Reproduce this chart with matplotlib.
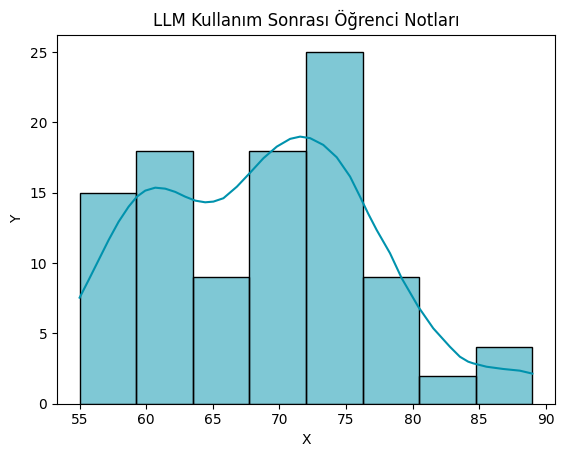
import matplotlib.pyplot as plt
import numpy as np

# histogram (8 bins from 55 to 89)
bin_edges = [55, 59.25, 63.5, 67.75, 72, 76.25, 80.5, 84.75, 89]
counts = [15, 18, 9, 18, 25, 9, 2, 4]

# kde curve (x, count-scaled density)
kde_x = [55.0, 55.68, 56.43, 57.18, 57.93, 58.68, 59.3, 59.93, 60.68, 61.43,
         62.18, 62.93, 63.68, 64.43, 65.05, 65.8, 66.81, 67.81, 68.8, 69.81,
         70.81, 71.56, 72.31, 73.3, 74.31, 75.31, 76.06, 76.68, 77.31, 78.31,
         79.19, 80.43, 81.56, 82.81, 83.56, 84.18, 84.56, 85.56, 86.81, 88.06,
         89.0]
kde_y = [7.54, 8.8, 10.22, 11.64, 12.94, 14.01, 14.72, 15.15, 15.36, 15.29,
         15.06, 14.72, 14.44, 14.32, 14.37, 14.61, 15.43, 16.43, 17.45, 18.28,
         18.83, 18.99, 18.88, 18.4, 17.52, 16.15, 14.72, 13.5, 12.35, 10.7,
         8.92, 6.9, 5.36, 4.05, 3.34, 2.99, 2.87, 2.63, 2.47, 2.35, 2.14]

color = "#0092ad"

fig = plt.figure(figsize=(5.62, 4.57), dpi=100)
ax = fig.add_axes([0.1014, 0.1166, 0.8861, 0.8079])

edges = np.array(bin_edges)
ax.bar(edges[:-1], counts, width=np.diff(edges), align='edge',
       color=color, alpha=0.5, edgecolor='none')
ax.bar(edges[:-1], counts, width=np.diff(edges), align='edge',
       fill=False, edgecolor='black', linewidth=1)
ax.plot(kde_x, kde_y, color=color, linewidth=1.5)

ax.set_xlim(53.3, 90.7)
ax.set_ylim(0, 26.25)
ax.set_xticks([55, 60, 65, 70, 75, 80, 85, 90])
ax.set_yticks([0, 5, 10, 15, 20, 25])
ax.set_xlabel('X')
ax.set_ylabel('Y')
ax.set_title('LLM Kullanım Sonrası Öğrenci Notları')

fig.savefig('out.png', dpi=100)
